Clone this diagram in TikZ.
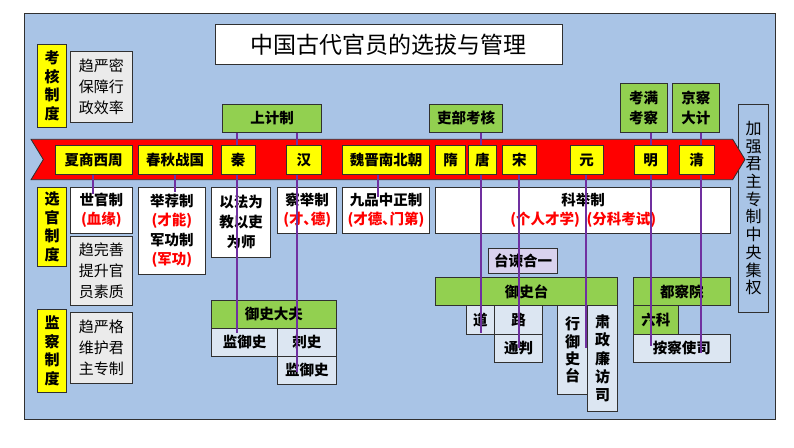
\documentclass[tikz,border=0pt]{standalone}
\usepackage{fontspec}
\setmainfont{Noto Sans CJK SC}
\definecolor{panelc}{HTML}{A9C4E6}
\definecolor{bordc}{HTML}{303030}
\definecolor{yelc}{HTML}{FFFF00}
\definecolor{grnc}{HTML}{92D050}
\definecolor{lboxc}{HTML}{DCE6F2}
\definecolor{gboxc}{HTML}{EBEBEB}
\definecolor{purc}{HTML}{7030A0}
\definecolor{redc}{HTML}{FF0000}
\definecolor{lavc}{HTML}{D9D2EE}
\newcommand{\rt}[1]{\textcolor{redc}{#1}}
\begin{document}
\begin{tikzpicture}[x=1pt,y=-1pt,
  bx/.style={draw=bordc, line width=0.8pt, inner sep=0pt, align=center},
  sz/.style 2 args={minimum width=#1, minimum height=#2},
  bfont/.style={font=\fontsize{14.5}{19.5}\selectfont\bfseries},
  era/.style={bx, fill=yelc, bfont},
  grnbox/.style={bx, fill=grnc, bfont},
  whtbox/.style={bx, fill=white, bfont},
  lbox/.style={bx, fill=lboxc, bfont},
  grybox/.style={bx, fill=gboxc, align=left, font=\fontsize{15}{21}\selectfont},
  ylab/.style={bx, fill=yelc, font=\fontsize{15}{18.5}\selectfont\bfseries},
  vline/.style={draw=purc, line width=2pt}
]
\useasboundingbox (0,0) rectangle (794,447);

% panel and title
\node[bx, fill=panelc, sz={751.6}{406}] (panel) at (399.8,216.3) {};
\node[bx, fill=white, sz={347.7}{40}, font=\fontsize{23}{26}\selectfont] (title) at (388.9,44.3) {中国古代官员的选拔与管理};

% left labels
\node[ylab, sz={29.4}{83.4}] (khzd) at (52,86) {考\\核\\制\\度};
\node[grybox, sz={62}{70.3}] (khd) at (101.3,86.8) {趋严密\\保障行\\政效率};
\node[ylab, sz={29.4}{79}] (xgzd) at (52,226.8) {选\\官\\制\\度};
\node[grybox, sz={62}{68.3}] (xgd) at (101.3,270.8) {趋完善\\提升官\\员素质};
\node[ylab, sz={29.4}{83}] (jczd) at (52,350.8) {监\\察\\制\\度};
\node[grybox, sz={62}{70.6}] (jcd) at (101.3,348) {趋严格\\维护君\\主专制};

% top boxes
\node[grnbox, sz={99}{28}] (sjz) at (272.2,118.3) {上计制};
\node[grnbox, sz={72.6}{28}] (lbkh) at (466,118.3) {吏部考核};
\node[grnbox, sz={47.3}{49}] (kmkc) at (643.7,107.8) {考满\\考察};
\node[grnbox, sz={47}{49}] (jcdj) at (695.8,107.8) {京察\\大计};
\node[bx, fill=panelc, sz={30}{208.3}, font=\fontsize{16}{17.7}\selectfont] (jq) at (753.7,208.2) {加\\强\\君\\主\\专\\制\\中\\央\\集\\权};

% selection boxes
\node[whtbox, sz={62}{46}] (sgz) at (101.3,210.3) {世官制\\\rt{(血缘)}};
\node[whtbox, sz={67}{86.7}] (jjz) at (171.8,230.7) {举荐制\\\rt{(才能)}\\军功制\\\rt{(军功)}};
\node[whtbox, sz={58.6}{70}, font=\fontsize{14.5}{20}\selectfont\bfseries] (yfw) at (241,222.3) {以法为\\教以吏\\为师};
\node[whtbox, sz={59}{46}] (cjz) at (307.2,210.3) {察举制\\\rt{(才､德)}};
\node[whtbox, sz={86.6}{46}] (jpz) at (386,210.3) {九品中正制\\\rt{(才德､门第)}};
\node[whtbox, sz={295}{46}] (kjz) at (583.2,210.3) {科举制\\\rt{(个人才学)\ \ (分科考试)}};

% supervision boxes
\node[grnbox, sz={124.3}{27.6}] (ysdf) at (273.85,314.5) {御史大夫};
\node[lbox, sz={66}{27.7}] (jys1) at (244.7,342.15) {监御史};
\node[lbox, sz={58.3}{27.7}] (cs) at (306.85,342.15) {刺史};
\node[lbox, sz={58.3}{28}] (jys2) at (306.85,370) {监御史};
\node[bx, fill=lavc, bfont, sz={69.4}{25.7}] (tjhy) at (523,260.85) {台谏合一};
\node[grnbox, sz={181.6}{27.6}] (yst) at (526.5,291.5) {御史台};
\node[lbox, sz={28.7}{28.7}] (dao) at (480.35,319.65) {道};
\node[lbox, sz={47.6}{28.7}] (lu) at (518.5,319.65) {路};
\node[lbox, sz={47.6}{28.3}] (tp) at (518.5,348.15) {通判};
\node[lbox, sz={30}{89.4}, font=\fontsize{15}{17.2}\selectfont\bfseries] (xyst) at (572.7,350) {行\\御\\史\\台};
\node[lbox, sz={29.6}{106.4}, font=\fontsize{15}{18.3}\selectfont\bfseries] (szlf) at (602.5,358.5) {肃\\政\\廉\\访\\司};
\node[grnbox, sz={97}{27.6}] (dcy) at (681.8,291.5) {都察院};
\node[grnbox, sz={45}{28.7}] (lk) at (655.8,319.65) {六科};
\node[lbox, sz={97}{28.3}] (acss) at (681.8,348.15) {按察使司};

% red arrow band
\draw[draw=bordc, line width=0.8pt, fill=redc] (31,139.3) -- (732.7,139.3) -- (745,159.5) -- (732.7,179.7) -- (31,179.7) -- (43.3,159.5) -- cycle;

% line end coordinates
\coordinate (e1) at (93,194);
\coordinate (e2) at (175,192);
\coordinate (e3) at (237.3,333.3);
\coordinate (e4) at (297.3,371.7);
\coordinate (e5) at (377.7,196.7);
\coordinate (e6) at (480.7,333.3);
\coordinate (e7) at (519.3,348.3);
\coordinate (e8) at (585.7,348);
\coordinate (e9) at (650.7,346);
\coordinate (e10) at (701,353.3);

\coordinate (bandtop) at (0,174.3);
\draw[vline] (bandtop -| e1) -- (e1);
\draw[vline] (bandtop -| e2) -- (e2);
\draw[vline] (sjz.south -| e3) -- (e3);
\draw[vline] (sjz.south -| e4) -- (e4);
\draw[vline] (bandtop -| e5) -- (e5);
\draw[vline] (lbkh.south -| e6) -- (e6);
\draw[vline] (bandtop -| e7) -- (e7);
\draw[vline] (bandtop -| e8) -- (e8);
\draw[vline] (kmkc.south -| e9) -- (e9);
\draw[vline] (jcdj.south -| e10) -- (e10);

% era boxes
\node[era, sz={77.3}{28.6}] (xs) at (93.7,160) {夏商西周};
\node[era, sz={73.7}{28.6}] (cq) at (175.2,160) {春秋战国};
\node[era, sz={34}{28.6}] (qin) at (238,160) {秦};
\node[era, sz={34.3}{28.6}] (han) at (303.8,160) {汉};
\node[era, sz={86.6}{28.6}] (wj) at (386,160) {魏晋南北朝};
\node[era, sz={30}{28.6}] (sui) at (450.7,160) {隋};
\node[era, sz={28}{28.6}] (tang) at (482.3,160) {唐};
\node[era, sz={33.3}{28.6}] (song) at (519.3,160) {宋};
\node[era, sz={33}{28.6}] (yuan) at (586.5,160) {元};
\node[era, sz={33.3}{28.6}] (ming) at (650.7,160) {明};
\node[era, sz={34.7}{28.6}] (qing) at (696.7,160) {清};
\end{tikzpicture}
\end{document}
